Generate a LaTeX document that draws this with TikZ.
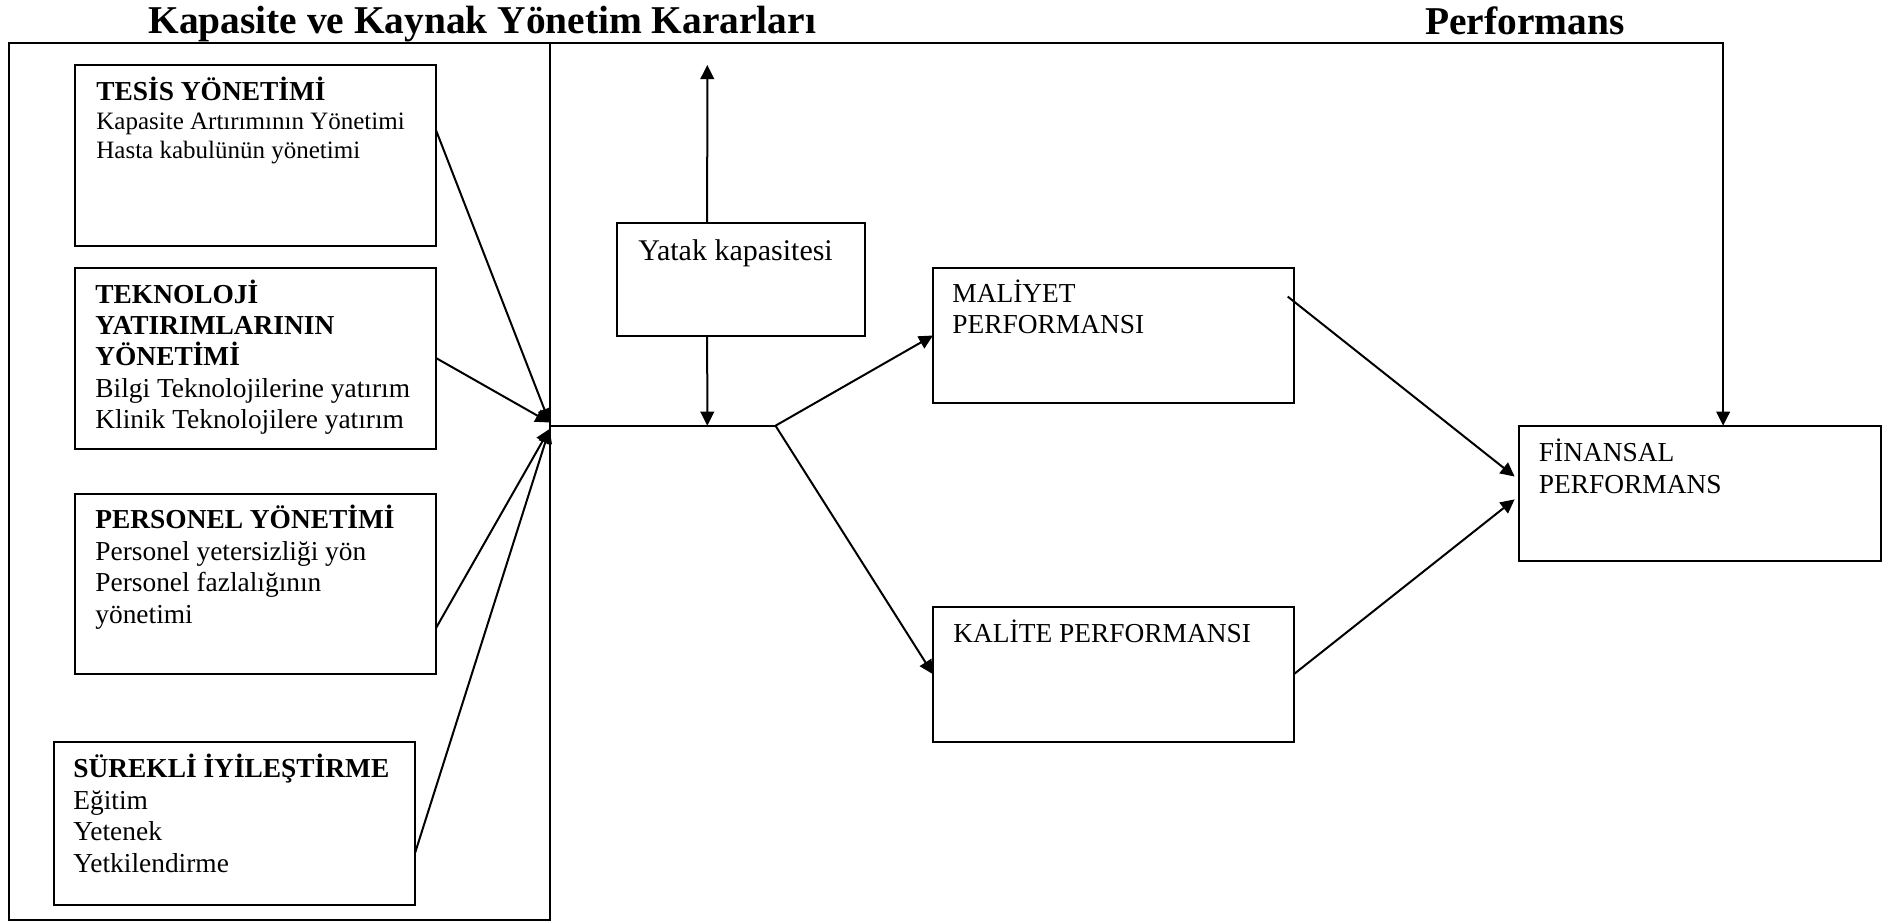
\documentclass[tikz,border=0pt]{standalone}
\usepackage{fontspec}
\setmainfont{Liberation Serif}
\usetikzlibrary{arrows.meta,calc}
\newcommand\leadstrut{\rule{0pt}{1em}}
\begin{document}
\begin{tikzpicture}[x=0.5pt,y=-0.5pt,
  box/.style={draw, line width=1pt, anchor=north west, inner sep=0pt, outer sep=0pt},
  txt/.style={anchor=north west, inner sep=0pt, align=left, font=\fontsize{13.7}{15.8}\selectfont},
  heading/.style={anchor=base west, inner sep=0pt, font=\fontsize{19.7}{22}\selectfont\bfseries},
  link/.style={line width=1pt},
  arr/.style={link, -{Triangle[length=7pt,width=6.8pt]}}]
\useasboundingbox (0,0) rectangle (1892,922);

% headings
\node[heading] (h1) at (148,33) {Kapasite ve Kaynak Yönetim Kararları};
\node[heading] (h2) at (1425,34) {Performans};

% decision frame and its boxes
\node[box, minimum width=270.5pt, minimum height=438.5pt] (frame) at (8.5,42.5) {};
\node[box, minimum width=180.5pt, minimum height=90.5pt] (tesis) at (75,65) {};
\node[box, minimum width=180.5pt, minimum height=90.5pt] (tekno) at (75,267.5) {};
\node[box, minimum width=180.5pt, minimum height=90.3pt] (personel) at (75,493.5) {};
\node[box, minimum width=180.8pt, minimum height=81.5pt] (surekli) at (53.5,742) {};

\node[txt, font=\fontsize{12.5}{14.4}\selectfont] (tesis-t) at (96,72.6)
  {{\fontsize{13.7}{14.4}\selectfont\bfseries\leadstrut TESİS YÖNETİMİ}\\Kapasite Artırımının Yönetimi\\Hasta kabulünün yönetimi};
\node[txt, font=\fontsize{13.7}{15.6}\selectfont] (tekno-t) at (95,275.6)
  {\bfseries\leadstrut TEKNOLOJİ\\\bfseries YATIRIMLARININ\\\bfseries YÖNETİMİ\\Bilgi Teknolojilerine yatırım\\Klinik Teknolojilere yatırım};
\node[txt] (personel-t) at (95,500.6)
  {\bfseries\leadstrut PERSONEL YÖNETİMİ\\Personel yetersizliği yön\\Personel fazlalığının\\yönetimi};
\node[txt] (surekli-t) at (73,749.6)
  {\bfseries\leadstrut SÜREKLİ İYİLEŞTİRME\\Eğitim\\Yetenek\\Yetkilendirme};

% capacity and performance boxes
\node[box, minimum width=124.25pt, minimum height=56.5pt] (yatak) at (616.5,223) {};
\node[box, minimum width=180.35pt, minimum height=67.8pt] (maliyet) at (933,267.7) {};
\node[box, minimum width=180.4pt, minimum height=67.5pt] (kalite) at (933,606.7) {};
\node[box, minimum width=181pt, minimum height=67.9pt] (fin) at (1518.6,425.6) {};

\node[txt, font=\fontsize{15}{17}\selectfont] (yatak-t) at (638,230) {\leadstrut Yatak kapasitesi};
\node[txt] (maliyet-t) at (952,274.3) {\leadstrut MALİYET\\PERFORMANSI};
\node[txt] (kalite-t) at (953,614.3) {\leadstrut KALİTE PERFORMANSI};
\node[txt] (fin-t) at (1538.5,433.6) {\leadstrut FİNANSAL\\PERFORMANS};

% junction points
\coordinate (jin) at (549.5,425.7);
\coordinate (jout) at (775.5,425.7);
\coordinate (jA) at (549.5,422.5);
\coordinate (jB) at (549.5,429);
\coordinate (ytop) at (707.3,65);
\coordinate (ftop) at ($(fin.north west)!0.565!(fin.north east)$);

% decisions feed the junction
\draw[arr] ($(tesis.north east)!0.36!(tesis.south east)$) -- (jA);
\draw[arr] (tekno.east) -- (jA);
\draw[arr] ($(personel.north east)!0.745!(personel.south east)$) -- (jB);
\draw[arr] ($(surekli.north east)!0.68!(surekli.south east)$) -- (jB);
\draw[link] (jin) -- (jout);

% bed capacity
\draw[arr] ($(yatak.north west)!0.365!(yatak.north east)$) -- (ytop);
\draw[arr] ($(yatak.south west)!0.365!(yatak.south east)$) -- (ytop |- jin);

% performance links
\draw[arr] (jout) -- (maliyet.west);
\draw[arr] (jout) -- (kalite.west);
\draw[arr] ([xshift=-3pt]$(maliyet.north east)!0.213!(maliyet.south east)$) -- ([xshift=-2pt]$(fin.north west)!0.375!(fin.south west)$);
\draw[arr] (kalite.east) -- ([xshift=-2pt]$(fin.north west)!0.543!(fin.south west)$);
\draw[arr] (frame.north east) -| (ftop);
\end{tikzpicture}
\end{document}
